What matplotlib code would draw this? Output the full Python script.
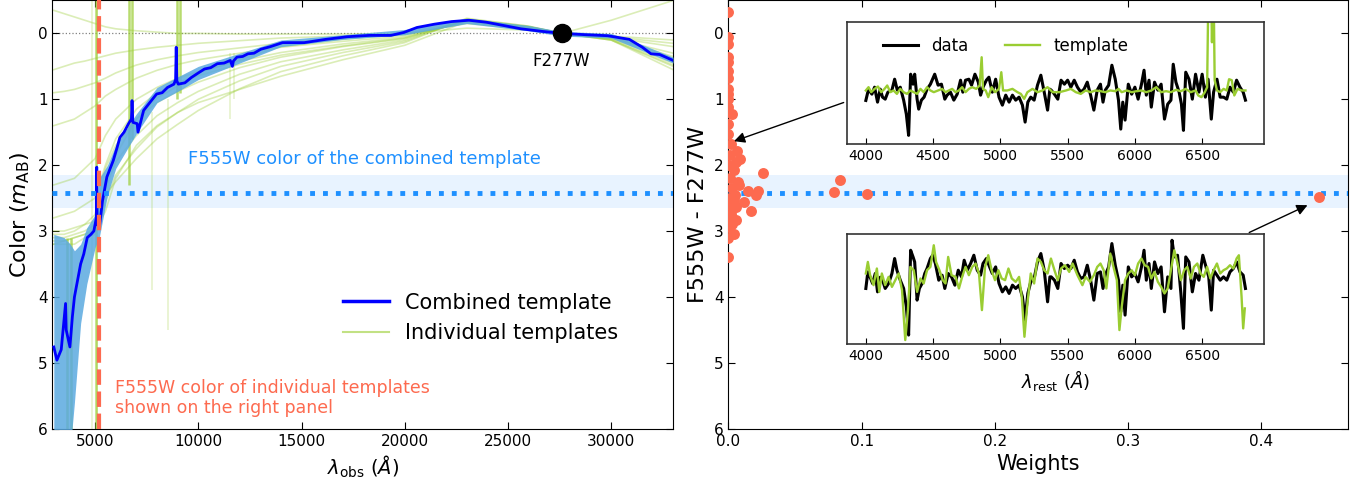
import numpy as np
import matplotlib.pyplot as plt

# ---- combined template colour curve (relative to F277W) ----
comb_wave = [3000, 3150, 3360, 3570, 3600, 3780, 3900, 4000, 4150, 4300, 4450, 4620, 4800, 4940,
             5060, 5080, 5100, 5210, 5360, 5570, 5880, 6050, 6200, 6400, 6620, 6760, 6790, 6830,
             7040, 7080, 7350, 7650, 7980, 8250, 8510, 8820, 8900, 8930, 8960, 9030, 9350, 9660,
             10000, 10300, 10600, 10920, 11250, 11550, 11650, 11700, 11870, 12150, 12400, 12700,
             13030, 13500, 14080, 15130, 16180, 17230, 18280, 19330, 19960, 20590, 21430, 22270,
             23110, 23950, 24790, 25630, 26680, 27630, 28790, 29830, 30880, 31510, 31930, 32350, 33000]
comb_color = [4.76, 4.96, 4.8, 4.1, 4.5, 4.76, 4.3, 4.0, 3.75, 3.5, 3.35, 3.1, 3.05, 3.0,
              2.8, 2.03, 2.9, 2.94, 2.54, 2.18, 1.93, 1.75, 1.58, 1.5, 1.37, 1.3, 1.02, 1.35,
              1.37, 1.5, 1.17, 1.05, 0.92, 0.9, 0.82, 0.77, 0.7, 0.21, 0.72, 0.77, 0.75, 0.67,
              0.6, 0.54, 0.52, 0.46, 0.45, 0.41, 0.5, 0.42, 0.36, 0.35, 0.31, 0.3,
              0.24, 0.2, 0.14, 0.14, 0.09, 0.05, 0.03, 0.03, -0.015, -0.09, -0.14, -0.18,
              -0.2, -0.17, -0.12, -0.07, -0.03, 0.0, 0.02, 0.035, 0.09, 0.21, 0.31, 0.32, 0.41]

# uncertainty envelope of the combined template
band_wave = [3000, 3500, 3800, 4000, 4300, 4600, 5000, 5200, 5600, 6000, 7000, 8000, 9000, 10000,
             12000, 14000, 17000, 20000, 23000, 26000, 27600, 30000, 31500, 33000]
band_lo = [3.05, 3.1, 3.2, 3.3, 3.2, 2.95, 2.75, 2.2, 2.0, 1.7, 1.22, 0.82, 0.66, 0.5,
           0.3, 0.1, 0.02, -0.06, -0.23, -0.12, -0.03, 0.0, 0.17, 0.36]
band_hi = [6.5, 6.5, 6.3, 5.6, 4.4, 3.8, 3.25, 3.1, 2.45, 2.05, 1.52, 1.05, 0.88, 0.7,
           0.45, 0.2, 0.09, 0.02, -0.15, -0.04, 0.04, 0.07, 0.26, 0.45]

# ---- individual templates ----
tpl_wave = [3000, 3500, 4000, 4500, 5000, 5500, 6000, 7000, 8000, 9000, 10000, 12000, 14000,
            17000, 20000, 23000, 26000, 27600, 30000, 33000]
tpl_colors = [
    [-0.35, -0.3, -0.25, -0.2, -0.15, -0.1, -0.07, -0.04, -0.02, 0.0, 0.0, 0.01, 0.01, 0.01, 0.0, -0.08, -0.05, 0.0, -0.2, -0.5],
    [0.55, 0.5, 0.45, 0.42, 0.38, 0.34, 0.3, 0.25, 0.21, 0.18, 0.15, 0.11, 0.07, 0.04, 0.01, -0.15, -0.06, 0.0, 0.04, 0.1],
    [0.9, 0.88, 0.85, 0.8, 0.75, 0.68, 0.6, 0.48, 0.4, 0.34, 0.29, 0.22, 0.15, 0.08, 0.02, -0.16, -0.07, 0.0, 0.05, 0.15],
    [1.4, 1.35, 1.3, 1.2, 1.1, 0.95, 0.85, 0.68, 0.56, 0.47, 0.4, 0.3, 0.21, 0.12, 0.04, -0.18, -0.08, 0.0, 0.06, 0.2],
    [2.3, 2.25, 2.2, 2.05, 1.9, 1.55, 1.3, 1.0, 0.82, 0.68, 0.58, 0.42, 0.29, 0.16, 0.06, -0.2, -0.1, 0.0, 0.07, 0.3],
    [2.8, 2.75, 2.7, 2.6, 2.5, 2.0, 1.6, 1.15, 0.9, 0.75, 0.64, 0.47, 0.33, 0.19, 0.07, -0.19, -0.09, 0.0, 0.07, 0.35],
    [3.0, 3.0, 2.95, 2.9, 2.85, 2.25, 1.85, 1.3, 0.98, 0.8, 0.6, 0.4, 0.2, 0.09, 0.0, -0.2, -0.08, 0.0, 0.04, 0.38],
    [3.05, 3.05, 3.0, 2.9, 2.75, 2.05, 1.7, 1.3, 1.05, 0.88, 0.74, 0.52, 0.36, 0.2, 0.08, -0.2, -0.1, 0.0, 0.08, 0.4],
    [3.15, 3.15, 3.1, 3.05, 2.95, 2.35, 1.95, 1.55, 1.25, 1.05, 0.88, 0.62, 0.43, 0.25, 0.1, -0.21, -0.1, 0.0, 0.09, 0.45],
    [3.2, 3.2, 3.2, 3.1, 3.05, 2.55, 2.15, 1.75, 1.42, 1.2, 1.0, 0.72, 0.5, 0.29, 0.12, -0.22, -0.11, 0.0, 0.1, 0.5],
    [3.1, 3.1, 3.05, 3.0, 2.9, 2.45, 2.25, 1.9, 1.6, 1.38, 1.17, 0.84, 0.58, 0.34, 0.14, -0.23, -0.11, 0.0, 0.1, 0.55],
    [3.2, 3.15, 3.1, 3.05, 3.0, 2.7, 2.2, 1.7, 1.4, 1.2, 1.05, 0.85, 0.65, 0.4, 0.18, -0.18, -0.1, 0.0, 0.1, 0.48],
]
# narrow features (emission / noise) in individual templates
spike_wave = [3650, 3850, 5050, 6620, 6780, 8950, 9120]
spike_top = [3.1, 3.1, -0.5, -0.5, -0.5, -0.5, -0.5]
spike_bottom = [6.0, 6.0, 6.0, 2.3, 1.6, 1.0, 0.9]
faint_spike_wave = [4870, 5080, 7750, 8550, 11550, 11750]
faint_spike_top = [-0.5, -0.5, 1.2, 1.0, 0.3, 0.3]
faint_spike_bottom = [6.0, 6.0, 3.9, 4.5, 1.3, 1.0]

# F555W colours
f555w_comb = 2.42
f555w_lo, f555w_hi = 2.15, 2.65
f555w_wave = 5200
f277w_wave = 27600

# ---- weights vs. F555W colour of individual templates ----
weights = [0.0, 0.0, 0.0, 0.0, 0.0, 0.0, 0.0, 0.0, 0.0, 0.0, 0.003, 0.0, 0.0, 0.002, 0.0066,
           0.009, 0.006, 0.004, 0.026, 0.007, 0.084, 0.015, 0.022, 0.021, 0.079, 0.104, 0.012,
           0.443, 0.017, 0.006, 0.006, 0.004, 0.0, 0.0, 0.004, 0.003, 0.002, 0.001, 0.0, 0.005,
           0.002, 0.008, 0.001, 0.003, 0.0, 0.0, 0.001, 0.002, 0.0]
tpl_f555w = [-0.32, 0.06, 0.16, 0.36, 0.44, 0.57, 0.67, 0.84, 0.92, 1.12, 1.22, 1.37, 1.53, 1.68, 1.78,
             1.9, 1.95, 2.08, 2.12, 2.26, 2.23, 2.39, 2.39, 2.46, 2.41, 2.44, 2.56,
             2.49, 2.7, 2.64, 2.84, 3.04, 2.94, 3.39, 2.53, 2.34, 2.74, 2.2, 2.0, 2.45,
             2.6, 2.3, 1.85, 2.9, 3.1, 1.0, 2.5, 2.8, 2.6]

# ---- rest-frame spectra for the inset panels ----
top_wave = [4000, 4020, 4045, 4065, 4087, 4107, 4124, 4144, 4164, 4194, 4214, 4234, 4256, 4281, 4301,
            4318, 4333, 4351, 4363, 4381, 4393, 4413, 4433, 4455, 4480, 4512, 4537, 4562, 4587, 4604,
            4629, 4654, 4679, 4704, 4721, 4741, 4766, 4786, 4811, 4836, 4853, 4871, 4896, 4915, 4940,
            4965, 4990, 5015, 5040, 5065, 5090, 5114, 5139, 5164, 5184, 5204, 5226, 5251, 5276, 5301,
            5326, 5351, 5368, 5378, 5402, 5427, 5451, 5476, 5500, 5524, 5549, 5573, 5598, 5622, 5646,
            5671, 5695, 5720, 5744, 5763, 5780, 5805, 5829, 5854, 5878, 5895, 5910, 5927, 5951, 5976,
            6000, 6024, 6049, 6068, 6085, 6105, 6122, 6146, 6171, 6195, 6220, 6244, 6268, 6285, 6305,
            6329, 6346, 6361, 6378, 6402, 6427, 6451, 6476, 6500, 6524, 6544, 6568, 6585, 6610, 6634,
            6659, 6683, 6707, 6732, 6756, 6781, 6805, 6822]
top_data = [0.917, 1.03, 0.98, 1.05, 0.9, 1.03, 0.95, 0.93, 1.0, 1.02, 1.13, 1.02, 1.05, 0.92, 0.78,
            0.567, 1.18, 1.08, 1.18, 0.93, 0.83, 0.92, 0.95, 1.03, 1.08, 1.18, 1.07, 1.08, 0.93, 0.97,
            1.0, 0.92, 0.98, 1.12, 1.0, 1.12, 1.13, 1.07, 1.18, 1.1, 0.97, 1.05, 1.12, 1.15, 1.0,
            1.13, 0.95, 0.87, 0.97, 0.9, 0.97, 0.92, 0.95, 0.87, 0.7, 0.9, 0.95, 0.92, 1.07, 1.17,
            1.0, 0.82, 1.03, 1.02, 0.98, 0.93, 1.12, 1.08, 1.12, 1.05, 1.12, 1.05, 1.0, 1.03, 1.1,
            0.97, 0.82, 1.02, 1.08, 0.9, 1.02, 1.07, 1.27, 1.13, 0.92, 0.63, 0.9, 0.72, 1.08, 0.98,
            1.05, 0.93, 1.08, 1.22, 0.97, 1.12, 0.85, 1.1, 1.02, 1.08, 0.73, 0.88, 0.92, 1.28, 1.1,
            1.0, 0.88, 0.617, 1.2, 1.13, 0.93, 1.18, 1.0, 1.18, 0.95, 1.13, 0.73, 1.0, 1.13, 0.95,
            0.95, 0.93, 1.05, 1.0, 1.12, 1.05, 1.0, 0.92]
top_tpl_wave = [4000, 4020, 4040, 4065, 4090, 4114, 4139, 4159, 4182, 4206, 4231, 4256, 4281, 4306,
                4331, 4356, 4381, 4406, 4430, 4455, 4480, 4505, 4537, 4567, 4592, 4617, 4642, 4667,
                4692, 4716, 4741, 4766, 4791, 4821, 4846, 4861, 4871, 4891, 4910, 4935, 4960, 4990,
                5007, 5020, 5052, 5090, 5127, 5152, 5177, 5201, 5239, 5276, 5313, 5351, 5388, 5439,
                5488, 5524, 5561, 5598, 5634, 5671, 5707, 5744, 5780, 5817, 5854, 5878, 5902, 5939,
                5976, 6012, 6049, 6085, 6122, 6159, 6195, 6232, 6268, 6305, 6342, 6378, 6415, 6451,
                6471, 6495, 6520, 6537, 6549, 6563, 6573, 6583, 6593, 6610, 6634, 6659, 6683, 6700,
                6720, 6739, 6763, 6793, 6822]
top_tpl = [1.017, 1.05, 1.0, 1.033, 1.057, 1.0, 1.033, 1.067, 1.0, 1.017, 0.983, 1.033, 1.0, 0.983,
           1.017, 1.0, 0.983, 1.033, 1.0, 1.05, 1.017, 1.0, 1.017, 1.033, 1.0, 1.017, 1.033, 1.0,
           1.017, 1.05, 1.0, 1.033, 1.05, 1.033, 1.067, 1.35, 1.033, 1.017, 0.95, 1.05, 1.0, 1.033,
           1.2, 1.017, 1.017, 1.033, 1.0, 0.983, 0.933, 1.0, 1.033, 1.0, 1.017, 1.05, 1.0, 1.0,
           1.017, 1.033, 1.0, 0.983, 1.017, 1.0, 1.017, 1.01, 1.0, 1.017, 1.01, 1.033, 1.0, 1.017,
           1.0, 1.01, 1.017, 1.0, 1.017, 1.05, 1.0, 1.01, 1.0, 1.023, 1.01, 1.033, 1.0, 1.017,
           0.967, 0.95, 1.0, 1.05, 2.3, 2.3, 1.5, 2.3, 1.12, 1.017, 1.0, 1.033, 1.017, 1.13,
           1.12, 0.967, 1.033, 1.017, 1.017]

bot_wave = [4000, 4015, 4032, 4050, 4070, 4087, 4107, 4124, 4144, 4169, 4194, 4214, 4231, 4256, 4281,
            4301, 4318, 4333, 4351, 4363, 4381, 4398, 4418, 4438, 4455, 4480, 4497, 4517, 4542, 4567,
            4587, 4612, 4637, 4662, 4687, 4711, 4731, 4754, 4779, 4803, 4828, 4853, 4871, 4896, 4920,
            4940, 4965, 4990, 5015, 5040, 5065, 5090, 5114, 5139, 5164, 5184, 5204, 5226, 5251, 5276,
            5301, 5326, 5351, 5368, 5378, 5402, 5427, 5451, 5476, 5500, 5524, 5549, 5573, 5598, 5622,
            5646, 5671, 5695, 5720, 5744, 5763, 5780, 5805, 5829, 5854, 5878, 5895, 5910, 5927, 5951,
            5976, 6000, 6024, 6049, 6068, 6085, 6105, 6122, 6146, 6171, 6195, 6220, 6244, 6268, 6276,
            6293, 6317, 6342, 6361, 6378, 6402, 6427, 6451, 6476, 6505, 6529, 6549, 6568, 6585, 6610,
            6634, 6659, 6683, 6707, 6732, 6756, 6781, 6805, 6822]
bot_data = [0.917, 1.083, 1.03, 0.967, 1.067, 0.883, 1.03, 1.0, 0.917, 0.967, 1.067, 1.217, 1.1, 1.0, 0.917,
            0.733, 0.45, 1.3, 1.233, 1.183, 0.8, 0.917, 0.967, 1.067, 1.117, 1.217, 1.25, 1.167, 1.0, 1.05,
            0.917, 1.067, 1.033, 0.95, 1.1, 1.033, 1.2, 1.1, 1.167, 1.25, 1.1, 1.05, 1.167, 1.217, 1.133,
            1.067, 1.133, 0.967, 0.883, 0.933, 0.867, 0.95, 0.917, 0.95, 0.833, 0.6, 0.867, 0.983, 1.017, 1.183,
            1.267, 1.1, 0.783, 1.033, 1.033, 1.0, 0.917, 1.167, 1.117, 1.15, 1.117, 1.2, 1.083, 1.017, 1.033,
            1.15, 1.0, 0.8, 1.067, 1.083, 0.917, 1.05, 1.133, 1.367, 1.15, 1.0, 0.683, 0.95, 0.65, 1.133,
            1.033, 1.067, 0.983, 1.133, 1.3, 1.0, 1.167, 0.917, 1.183, 1.067, 1.133, 0.683, 1.033, 0.917, 1.4,
            1.233, 1.25, 0.867, 0.517, 1.233, 1.183, 0.883, 1.067, 1.0, 1.25, 1.133, 1.033, 0.7, 1.1, 1.05,
            1.0, 1.033, 1.0, 1.083, 1.117, 1.183, 1.083, 1.05, 0.917]
bot_tpl_wave = [4000, 4015, 4032, 4057, 4082, 4100, 4119, 4144, 4169, 4194, 4219, 4244, 4269, 4293,
                4313, 4331, 4356, 4381, 4406, 4430, 4455, 4480, 4505, 4522, 4547, 4572, 4592, 4612,
                4637, 4667, 4692, 4716, 4741, 4766, 4791, 4816, 4841, 4863, 4886, 4910, 4935, 4960,
                4985, 5010, 5035, 5060, 5085, 5114, 5139, 5159, 5179, 5201, 5226, 5251, 5276, 5301,
                5326, 5351, 5376, 5402, 5427, 5451, 5480, 5512, 5537, 5573, 5610, 5634, 5666, 5695,
                5720, 5744, 5768, 5788, 5817, 5841, 5866, 5885, 5902, 5927, 5951, 5976, 6000, 6024,
                6049, 6073, 6098, 6122, 6146, 6171, 6195, 6220, 6244, 6268, 6293, 6317, 6342, 6366,
                6390, 6415, 6439, 6464, 6488, 6512, 6537, 6561, 6585, 6610, 6634, 6659, 6683, 6707,
                6732, 6756, 6773, 6793, 6805, 6817]
bot_tpl = [1.067, 1.183, 1.05, 0.95, 1.117, 0.883, 1.067, 0.95, 1.033, 0.933, 1.0, 1.067, 0.9, 0.4,
           0.7, 1.133, 1.1, 0.883, 1.017, 0.967, 1.1, 1.133, 1.35, 1.183, 1.1, 1.0, 0.967, 1.233,
           1.05, 1.033, 0.917, 1.033, 1.133, 1.05, 1.133, 1.167, 1.067, 0.7, 1.133, 1.25, 1.1, 1.0,
           1.1, 1.017, 1.0, 1.117, 1.017, 0.983, 1.033, 0.833, 0.433, 0.767, 1.067, 0.967, 1.217, 1.183,
           1.1, 1.067, 1.217, 1.1, 1.0, 1.117, 1.15, 1.083, 1.167, 1.05, 0.95, 1.033, 0.983, 1.05,
           1.133, 1.167, 1.1, 0.917, 1.267, 1.133, 1.0, 0.5, 0.733, 1.0, 1.067, 1.1, 1.05, 1.167,
           1.217, 1.15, 1.133, 1.017, 1.083, 0.983, 0.933, 0.867, 0.917, 1.1, 1.3, 1.167, 1.0, 1.1,
           1.133, 1.017, 1.133, 1.167, 1.067, 1.033, 1.133, 1.017, 1.1, 1.167, 1.067, 1.1, 1.117, 1.15,
           1.117, 1.217, 1.25, 0.833, 0.517, 0.717]

red = '#fd6a4f'
blue_band = '#5aa9e0'

fig = plt.figure(figsize=(13.67, 4.86), dpi=100)
ax1 = fig.add_axes([0.0383, 0.118, 0.4541, 0.881])
ax2 = fig.add_axes([0.5328, 0.118, 0.4533, 0.881])

for ax in (ax1, ax2):
    ax.axhspan(f555w_lo, f555w_hi, color='dodgerblue', alpha=0.1, lw=0, zorder=0)
    ax.axhline(f555w_comb, color='dodgerblue', ls=':', lw=3.5, zorder=6)
    ax.tick_params(direction='in', top=True, right=True, length=5, labelsize=11)
    ax.set_ylim(6, -0.5)
    ax.set_yticks(range(0, 7))

# left panel: colour curves
ax1.axhline(0, color='gray', ls=':', lw=0.9, zorder=1)
for i, col in enumerate(tpl_colors):
    ax1.plot(tpl_wave, col, color='yellowgreen', lw=1.2, alpha=0.35, zorder=2,
             label='Individual templates' if i == 0 else None)
ax1.vlines(spike_wave, spike_top, spike_bottom, color='yellowgreen', lw=1.8, alpha=0.7, zorder=2)
ax1.vlines(faint_spike_wave, faint_spike_top, faint_spike_bottom, color='yellowgreen', lw=1.2,
           alpha=0.25, zorder=2)
ax1.fill_between(band_wave, band_lo, band_hi, color=blue_band, alpha=0.85, lw=0, zorder=3)
ax1.plot(comb_wave, comb_color, color='blue', lw=2, zorder=4, label='Combined template')
ax1.axvline(f555w_wave, color=red, ls='--', lw=3, zorder=5)
ax1.plot([f277w_wave], [0], 'o', color='black', ms=13, zorder=7)
ax1.text(f277w_wave, 0.42, 'F277W', ha='center', va='center', fontsize=12)
ax1.text(9500, 1.9, 'F555W color of the combined template', color='dodgerblue',
         fontsize=13, ha='left', va='center')
ax1.text(5950, 5.54, 'F555W color of individual templates\nshown on the right panel',
         color=red, fontsize=12.5, ha='left', va='center', linespacing=1.15)
ax1.set_xlim(2930, 33000)
ax1.set_xticks([5000, 10000, 15000, 20000, 25000, 30000])
ax1.set_xlabel(r'$\lambda_{\rm obs}$ $(\AA)$', fontsize=14)
ax1.set_ylabel(r'Color ($m_{\rm AB}$)', fontsize=16)
handles, labels = ax1.get_legend_handles_labels()
leg = ax1.legend(handles[::-1], labels[::-1], loc='center left', bbox_to_anchor=(0.468, 0.259),
                 frameon=False, fontsize=15, borderpad=0, borderaxespad=0, handlelength=2.2)
leg.get_lines()[0].set_linewidth(2.5)
leg.get_lines()[1].set_linewidth(1.5)
leg.get_lines()[1].set_alpha(0.6)

# right panel: weights
ax2.scatter(weights, tpl_f555w, s=62, color=red, zorder=7, lw=0)
ax2.set_xlim(0, 0.465)
ax2.set_xticks([0.0, 0.1, 0.2, 0.3, 0.4])
ax2.set_xlabel('Weights', fontsize=15)
ax2.set_ylabel('F555W - F277W', fontsize=16)

arrow = dict(arrowstyle='-|>', color='black', lw=1, mutation_scale=16)
ax2.annotate('', xy=(0.0023, 1.65), xytext=(0.0885, 1.035), arrowprops=arrow, zorder=8)
ax2.annotate('', xy=(0.4365, 2.59), xytext=(0.389, 3.04), arrowprops=arrow, zorder=8)

ins1 = ax2.inset_axes([0.1915, 0.664, 0.673, 0.285])
ins2 = ax2.inset_axes([0.1915, 0.1976, 0.673, 0.258])
ins1.plot(top_wave, top_data, color='black', lw=2.2, label='data')
ins1.plot(top_tpl_wave, top_tpl, color='yellowgreen', lw=1.7, label='template')
ins1.set_ylim(0.477, 1.70)
ins1.legend(loc='center left', bbox_to_anchor=(0.086, 0.81), ncol=2, frameon=False, fontsize=12,
            borderpad=0, borderaxespad=0, handlelength=2.1, columnspacing=2.2)
ins2.plot(bot_wave, bot_data, color='black', lw=2.2)
ins2.plot(bot_tpl_wave, bot_tpl, color='yellowgreen', lw=1.7)
ins2.set_ylim(0.36, 1.467)
ins2.set_xlabel(r'$\lambda_{\rm rest}$ $(\AA)$', fontsize=13)
for ins in (ins1, ins2):
    ins.set_zorder(9)
    ins.set_xlim(3860, 6960)
    ins.set_xticks([4000, 4500, 5000, 5500, 6000, 6500])
    ins.set_yticks([])
    ins.tick_params(direction='in', labelsize=10, length=4)
    for sp in ins.spines.values():
        sp.set_color('#333333')
        sp.set_linewidth(1.2)

fig.savefig('out.png', dpi=100)
